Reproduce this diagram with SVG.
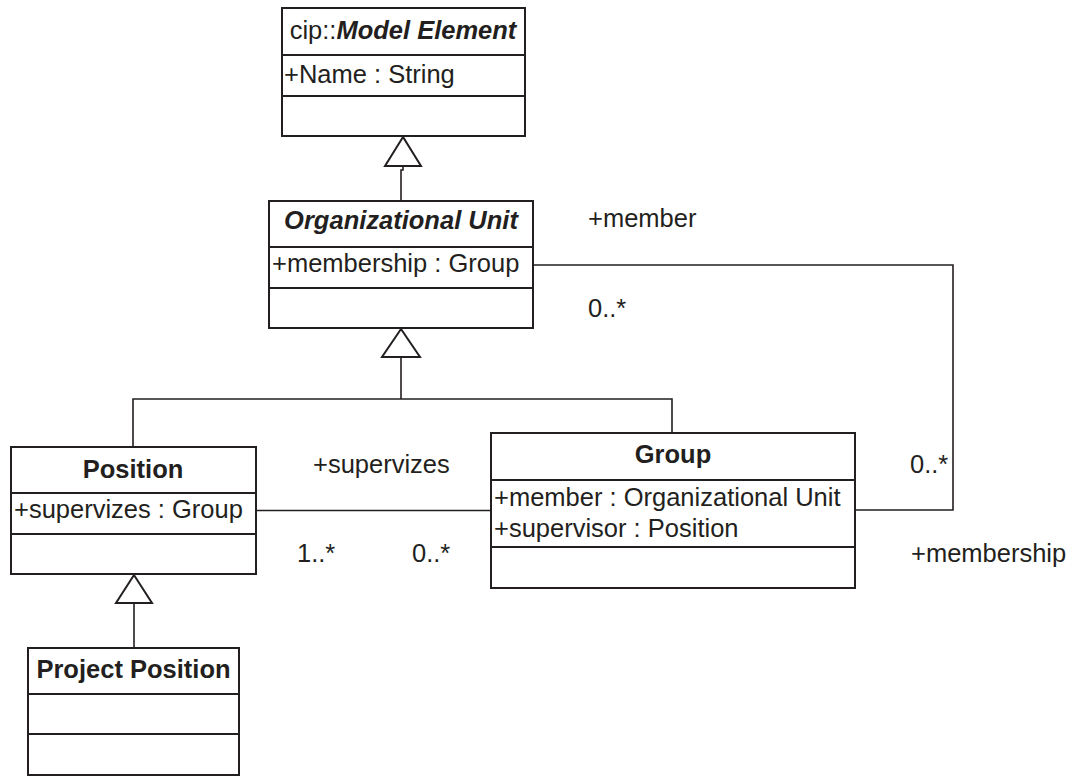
<svg xmlns="http://www.w3.org/2000/svg" width="1072" height="776" viewBox="0 0 1072 776">
<style>
.box{fill:#fff;stroke:#231f20;stroke-width:2}
.div{stroke:#231f20;stroke-width:2}
.t{font-family:"Liberation Sans",Arial,sans-serif;font-size:25.5px;fill:#231f20}
.b{font-weight:bold}
.bi{font-weight:bold;font-style:italic}
.c{text-anchor:middle}
.ln{fill:none;stroke:#231f20;stroke-width:1.6}
.tri{fill:#fff;stroke:#231f20;stroke-width:2;stroke-linejoin:miter}
</style>
<rect width="1072" height="776" fill="#fff"/>
<g id="connectors">
<path class="ln" d="M403,165 V170 H401 V201"/>
<polygon class="tri" points="403,137 385,166 421,166"/>
<path class="ln" d="M401,357 V399 M133,447 V399 H672 V433"/>
<polygon class="tri" points="401,329 382,357 420,357"/>
<path class="ln" d="M134,603 V648"/>
<polygon class="tri" points="134,575 116,603 152,603"/>
<path class="ln" d="M256,510.5 H491"/>
<path class="ln" d="M855,510 H953 V265 H533"/>
<text class="t" x="588" y="226.5">+member</text>
<text class="t" x="588" y="316.5">0..*</text>
<text class="t" x="313" y="473">+supervizes</text>
<text class="t" x="297" y="562">1..*</text>
<text class="t" x="412" y="562">0..*</text>
<text class="t" x="910" y="473">0..*</text>
<text class="t" x="911" y="562">+membership</text>
</g>
<g id="model-element">
<rect class="box" x="282" y="8" width="243" height="128"/>
<line class="div" x1="282" y1="55" x2="525" y2="55"/>
<line class="div" x1="282" y1="96" x2="525" y2="96"/>
<text class="t c" x="403" y="39">cip::<tspan class="bi">Model Element</tspan></text>
<text class="t" x="284" y="83">+Name : String</text>
</g>
<g id="organizational-unit">
<rect class="box" x="269" y="201" width="264" height="127"/>
<line class="div" x1="269" y1="247" x2="533" y2="247"/>
<line class="div" x1="269" y1="288" x2="533" y2="288"/>
<text class="t bi c" x="401" y="229">Organizational Unit</text>
<text class="t" x="272" y="272">+membership : Group</text>
</g>
<g id="position">
<rect class="box" x="11" y="447" width="245" height="127"/>
<line class="div" x1="11" y1="493" x2="256" y2="493"/>
<line class="div" x1="11" y1="534" x2="256" y2="534"/>
<text class="t b c" x="133" y="478">Position</text>
<text class="t" x="14" y="518">+supervizes : Group</text>
</g>
<g id="group">
<rect class="box" x="491" y="433" width="364" height="155"/>
<line class="div" x1="491" y1="480" x2="855" y2="480"/>
<line class="div" x1="491" y1="547" x2="855" y2="547"/>
<text class="t b c" x="673" y="463">Group</text>
<text class="t" x="494" y="506">+member : Organizational Unit</text>
<text class="t" x="494" y="537">+supervisor : Position</text>
</g>
<g id="project-position">
<rect class="box" x="28" y="648" width="211" height="127"/>
<line class="div" x1="28" y1="694" x2="239" y2="694"/>
<line class="div" x1="28" y1="734" x2="239" y2="734"/>
<text class="t b c" x="133.5" y="678">Project Position</text>
</g>
</svg>
